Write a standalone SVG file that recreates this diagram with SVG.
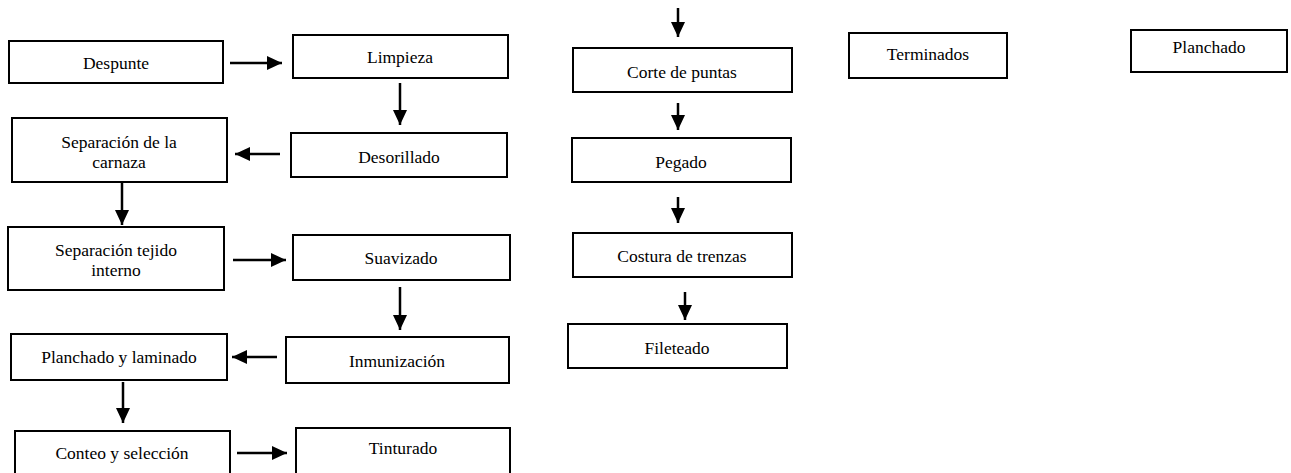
<svg xmlns="http://www.w3.org/2000/svg" width="1291" height="473" viewBox="0 0 1291 473">
<defs>
<style>
.box{fill:#fff;stroke:#000;stroke-width:2}
.t{font-family:"Liberation Serif","Times New Roman",serif;font-size:17.5px;fill:#000;text-anchor:middle}
.c{stroke:#000;stroke-width:2.5;fill:none}
</style>
<marker id="ah" markerWidth="15" markerHeight="14" refX="15" refY="7" orient="auto" markerUnits="userSpaceOnUse">
<path d="M0,0 L15,7 L0,14 Z" fill="#000"/>
</marker>
</defs>
<rect width="1291" height="473" fill="#fff"/>
<g id="connectors">
<line class="c" x1="230" y1="63" x2="282" y2="63" marker-end="url(#ah)"/>
<line class="c" x1="400" y1="83" x2="400" y2="125" marker-end="url(#ah)"/>
<line class="c" x1="280" y1="154" x2="235" y2="154" marker-end="url(#ah)"/>
<line class="c" x1="122" y1="182" x2="122" y2="225" marker-end="url(#ah)"/>
<line class="c" x1="233" y1="260" x2="286" y2="260" marker-end="url(#ah)"/>
<line class="c" x1="400" y1="287" x2="400" y2="330" marker-end="url(#ah)"/>
<line class="c" x1="277" y1="357" x2="232" y2="357" marker-end="url(#ah)"/>
<line class="c" x1="123" y1="382" x2="123" y2="423" marker-end="url(#ah)"/>
<line class="c" x1="237" y1="453" x2="287" y2="453" marker-end="url(#ah)"/>
<line class="c" x1="678" y1="8" x2="678" y2="37" marker-end="url(#ah)"/>
<line class="c" x1="678" y1="103" x2="678" y2="130" marker-end="url(#ah)"/>
<line class="c" x1="678" y1="197" x2="678" y2="223" marker-end="url(#ah)"/>
<line class="c" x1="685" y1="292" x2="685" y2="320" marker-end="url(#ah)"/>
</g>
<g id="despunte"><rect class="box" x="9" y="41" width="214" height="42"/><text class="t" x="116" y="69">Despunte</text></g>
<g id="limpieza"><rect class="box" x="293" y="35" width="215" height="43"/><text class="t" x="400" y="63">Limpieza</text></g>
<g id="separacion-carnaza"><rect class="box" x="12" y="118" width="215" height="64"/><text class="t" x="119" y="148">Separación de la</text><text class="t" x="119" y="168">carnaza</text></g>
<g id="desorillado"><rect class="box" x="291" y="133" width="216" height="44"/><text class="t" x="399" y="163">Desorillado</text></g>
<g id="separacion-tejido"><rect class="box" x="8" y="227" width="216" height="63"/><text class="t" x="116" y="256">Separación tejido</text><text class="t" x="116" y="276">interno</text></g>
<g id="suavizado"><rect class="box" x="293" y="235" width="217" height="45"/><text class="t" x="401" y="264">Suavizado</text></g>
<g id="planchado-laminado"><rect class="box" x="11" y="334" width="216" height="46"/><text class="t" x="119" y="363">Planchado y laminado</text></g>
<g id="inmunizacion"><rect class="box" x="286" y="337" width="223" height="46"/><text class="t" x="397" y="367">Inmunización</text></g>
<g id="conteo"><rect class="box" x="15" y="431" width="215" height="44"/><text class="t" x="122" y="459">Conteo y selección</text></g>
<g id="tinturado"><rect class="box" x="296" y="428" width="214" height="47"/><text class="t" x="403" y="454">Tinturado</text></g>
<g id="corte"><rect class="box" x="573" y="48" width="219" height="44"/><text class="t" x="682" y="78">Corte de puntas</text></g>
<g id="pegado"><rect class="box" x="572" y="138" width="219" height="44"/><text class="t" x="681" y="168">Pegado</text></g>
<g id="costura"><rect class="box" x="573" y="233" width="219" height="44"/><text class="t" x="682" y="262">Costura de trenzas</text></g>
<g id="fileteado"><rect class="box" x="568" y="324" width="219" height="44"/><text class="t" x="677" y="354">Fileteado</text></g>
<g id="terminados"><rect class="box" x="849" y="33" width="158" height="45"/><text class="t" x="928" y="60">Terminados</text></g>
<g id="planchado"><rect class="box" x="1131" y="30" width="156" height="42"/><text class="t" x="1209" y="53">Planchado</text></g>
</svg>
